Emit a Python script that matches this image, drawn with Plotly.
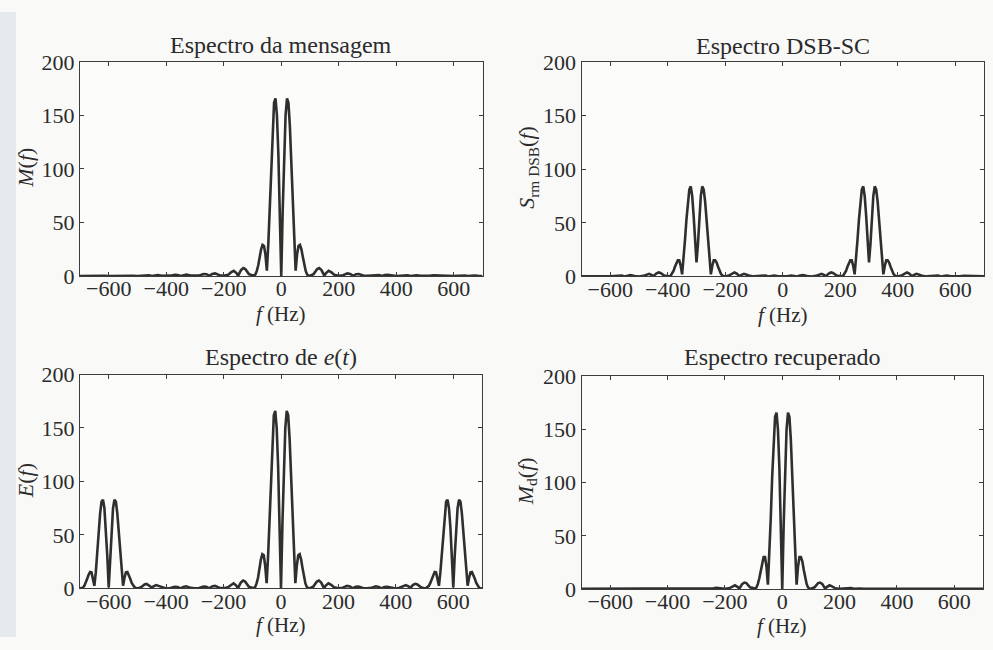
import plotly.graph_objects as go

# ---------------- data ----------------
x_tick_vals = [-600, -400, -200, 0, 200, 400, 600]
y_tick_vals = [0, 50, 100, 150, 200]

# Espectro da mensagem  M(f)
freq_msg = [-700, -685, -670, -660, -650, -640, -630, -615, -600, -585, -570, -560, -550, -540, -530, -515,
            -500, -485, -470, -460, -450, -440, -430, -415, -400, -385, -370, -360, -350, -340, -330, -315,
            -300, -285, -270, -260, -250, -240, -230, -215, -200, -185, -175, -165, -155, -150, -145, -140,
            -132, -125, -112.5, -100, -95, -90, -85, -80, -75, -70, -65, -60, -55, -50, -45, -40, -35, -30,
            -25, -20, -15, -10, -5, 0,
            5, 10, 15, 20, 25, 30, 35, 40, 45, 50, 55, 60, 65, 70, 75, 80, 85, 90, 95, 100, 112.5, 125,
            132, 140, 145, 150, 155, 165, 175, 185, 200, 215, 230, 240, 250, 260, 270, 285, 300, 315, 330,
            340, 350, 360, 370, 385, 400, 415, 430, 440, 450, 460, 470, 485, 500, 515, 530, 540, 550, 560,
            570, 585, 600, 615, 630, 640, 650, 660, 670, 685, 700]
mag_msg = [0, 0.1, 0.35, 0.35, 0, 0.3, 0.4, 0.1, 0, 0.1, 0.5, 0.45, 0, 0.4, 0.5, 0.15,
           0, 0.15, 0.65, 0.6, 0, 0.6, 0.75, 0.2, 0, 0.25, 1.0, 0.9, 0, 0.9, 1.2, 0.3,
           0.1, 0.4, 1.8, 1.6, 0.1, 1.9, 2.4, 0.7, 0.1, 1.0, 3.3, 4.8, 2.5, 0.1, 2.9, 5.5,
           7.3, 6.5, 1.7, 0.2, 0.2, 1.4, 4.7, 10, 18, 25, 29, 28, 20, 5, 30, 67, 106, 140,
           162, 166, 150, 114, 61, 0,
           61, 114, 150, 166, 162, 140, 106, 67, 30, 5, 20, 28, 29, 25, 18, 10, 4.7, 1.4, 0.2, 0.2, 1.7, 6.5,
           7.3, 5.5, 2.9, 0.1, 2.5, 4.8, 3.3, 1.0, 0.1, 0.7, 2.4, 1.9, 0.1, 1.6, 1.8, 0.4, 0.1, 0.3, 1.2,
           0.9, 0, 0.9, 1.0, 0.25, 0, 0.2, 0.75, 0.6, 0, 0.6, 0.65, 0.15, 0, 0.15, 0.5, 0.4, 0, 0.45,
           0.5, 0.1, 0, 0.1, 0.4, 0.3, 0, 0.35, 0.35, 0.1, 0]

# Espectro DSB-SC  S_DSB(f)
freq_dsb = [-700, -685, -670, -660, -650, -640, -630, -615, -600, -585, -570, -560, -550, -540, -530, -515,
            -500, -485, -475, -465, -455, -450, -445, -440, -432, -425, -412.5, -400, -395, -390, -385, -380,
            -375, -370, -365, -360, -355, -350, -345, -340, -335, -330, -325, -320, -315, -310, -305, -300,
            -295, -290, -285, -280, -275, -270, -265, -260, -255, -250, -245, -240, -235, -230, -225, -220,
            -215, -210, -205, -200, -187.5, -175, -168, -160, -155, -150, -145, -135, -125, -115, -100, -85,
            -70, -60, -50, -40, -30, -15, 0,
            15, 30, 40, 50, 60, 70, 85, 100, 115, 125, 135, 145, 150, 155, 160, 168, 175, 187.5, 200,
            205, 210, 215, 220, 225, 230, 235, 240, 245, 250, 255, 260, 265, 270, 275, 280, 285, 290,
            295, 300, 305, 310, 315, 320, 325, 330, 335, 340, 345, 350, 355, 360, 365, 370, 375, 380,
            385, 390, 395, 400, 412.5, 425, 432, 440, 445, 450, 455, 465, 475, 485, 500, 515, 530, 540,
            550, 560, 570, 585, 600, 615, 630, 640, 650, 660, 670, 685, 700]
mag_dsb = [0, 0.1, 0.5, 0.45, 0, 0.5, 0.6, 0.2, 0, 0.2, 0.9, 0.8, 0, 0.9, 1.2, 0.4,
           0, 0.5, 1.6, 2.4, 1.2, 0, 1.4, 2.7, 3.7, 3.2, 0.8, 0, 0.1, 0.7, 2.4, 5,
           9, 13, 15, 15, 10, 2, 15, 34, 53, 70, 81, 84, 75, 57, 30, 13,
           30, 57, 75, 84, 81, 70, 53, 34, 15, 2, 10, 15, 15, 13, 9, 5,
           2.4, 0.7, 0.1, 0, 0.8, 3.2, 3.7, 2.7, 1.4, 0, 1.2, 2.4, 1.6, 0.5, 0, 0.4,
           1.2, 0.9, 0, 0.8, 0.9, 0.2, 0,
           0.2, 0.9, 0.8, 0, 0.9, 1.2, 0.4, 0, 0.5, 1.6, 2.4, 1.2, 0, 1.4, 2.7, 3.7, 3.2, 0.8, 0,
           0.1, 0.7, 2.4, 5, 9, 13, 15, 15, 10, 2, 15, 34, 53, 70, 81, 84, 75, 57,
           30, 13, 30, 57, 75, 84, 81, 70, 53, 34, 15, 2, 10, 15, 15, 13, 9, 5,
           2.4, 0.7, 0.1, 0, 0.8, 3.2, 3.7, 2.7, 1.4, 0, 1.2, 2.4, 1.6, 0.5, 0, 0.4, 1.2, 0.9,
           0, 0.8, 0.9, 0.2, 0, 0.2, 0.6, 0.5, 0, 0.45, 0.5, 0.1, 0]

# Espectro de e(t)  E(f)
freq_e = [-700, -695, -690, -685, -680, -675, -670, -665, -660, -655, -650, -645, -640, -635, -630, -625,
          -620, -615, -610, -605, -600, -595, -590, -585, -580, -575, -570, -565, -560, -555, -550, -545,
          -540, -535, -530, -525, -520, -515, -510, -505, -500, -487.5, -475, -468, -460, -455, -450, -445,
          -435, -425, -412.5, -400, -385, -370, -360, -350, -340, -330, -315, -300, -285, -270, -260, -250,
          -240, -230, -215, -200, -185, -175, -165, -155, -150, -145, -140, -132, -125, -112.5, -100, -95,
          -90, -85, -80, -75, -70, -65, -60, -55, -50, -45, -40, -35, -30, -25, -20, -15, -10, -5, 0,
          5, 10, 15, 20, 25, 30, 35, 40, 45, 50, 55, 60, 65, 70, 75, 80, 85, 90, 95, 100, 112.5, 125,
          132, 140, 145, 150, 155, 165, 175, 185, 200, 215, 230, 240, 250, 260, 270, 285, 300, 315, 330,
          340, 350, 360, 370, 385, 400, 412.5, 425, 435, 445, 450, 455, 460, 468, 475, 487.5, 500, 505,
          510, 515, 520, 525, 530, 535, 540, 545, 550, 555, 560, 565, 570, 575, 580, 585, 590, 595, 600,
          605, 610, 615, 620, 625, 630, 635, 640, 645, 650, 655, 660, 665, 670, 675, 680, 685, 690, 695, 700]
mag_e = [0, 0.1, 0.7, 2.4, 5.2, 9, 12.8, 15.4, 15, 10, 2.5, 15, 34, 53, 70, 81,
         83, 75, 57, 30.6, 1, 30.6, 57, 75, 83, 81, 70, 53, 34, 15, 2.5, 10,
         15, 15.4, 12.8, 9, 5.2, 2.4, 1.1, 0.4, 0, 1.0, 3.7, 4.3, 3.3, 1.9, 0, 1.8,
         3.1, 2.3, 0.6, 0, 0.4, 1.5, 1.4, 0, 1.4, 2.0, 0.5, 0.1, 0.4, 1.8, 1.6, 0.1,
         1.9, 2.4, 0.7, 0.1, 1.0, 3.3, 4.8, 2.5, 0.1, 2.9, 5.5, 7.4, 6.5, 1.7, 0.2, 0.2,
         1.4, 4.7, 10, 19, 27, 32, 31, 21, 5, 30, 67, 106, 140, 162, 166, 150, 114, 61, 0,
         61, 114, 150, 166, 162, 140, 106, 67, 30, 5, 21, 31, 32, 27, 19, 10, 4.7, 1.4, 0.2, 0.2, 1.7, 6.5,
         7.4, 5.5, 2.9, 0.1, 2.5, 4.8, 3.3, 1.0, 0.1, 0.7, 2.4, 1.9, 0.1, 1.6, 1.8, 0.4, 0.1, 0.5, 2.0,
         1.4, 0, 1.4, 1.5, 0.4, 0, 0.6, 2.3, 3.1, 1.8, 0, 1.9, 3.3, 4.3, 3.7, 1.0, 0, 0.4,
         1.1, 2.4, 5.2, 9, 12.8, 15.4, 15, 10, 2.5, 15, 34, 53, 70, 81, 83, 75, 57, 30.6, 1,
         30.6, 57, 75, 83, 81, 70, 53, 34, 15, 2.5, 10, 15, 15.4, 12.8, 9, 5.2, 2.4, 0.7, 0.1, 0]

# Espectro recuperado  M_d(f)  (same frequency points as the message)
freq_rec = freq_msg
mag_rec = [0, 0, 0, 0, 0, 0, 0, 0, 0, 0, 0, 0, 0, 0, 0, 0,
           0, 0, 0, 0, 0, 0, 0, 0, 0, 0, 0.05, 0.05, 0, 0.25, 0.3, 0.1,
           0, 0.1, 0.4, 0.4, 0.05, 0.7, 1.0, 0.3, 0.1, 0.6, 2.2, 3.4, 1.8, 0.1, 2.3, 4.5,
           6.0, 5.5, 1.5, 0.2, 0.3, 1.4, 4.7, 10, 18, 26, 30, 30, 21, 4, 30, 67, 106, 140,
           162, 166, 150, 114, 61, 0,
           61, 114, 150, 166, 162, 140, 106, 67, 30, 4, 21, 30, 30, 26, 18, 10, 4.7, 1.4, 0.3, 0.2, 1.5, 5.5,
           6.0, 4.5, 2.3, 0.1, 1.8, 3.4, 2.2, 0.6, 0.1, 0.3, 1.0, 0.7, 0.05, 0.4, 0.4, 0.1, 0, 0.1, 0.3,
           0.25, 0, 0.05, 0.05, 0, 0, 0, 0, 0, 0, 0, 0, 0, 0, 0, 0, 0, 0, 0,
           0, 0, 0, 0, 0, 0, 0, 0, 0, 0, 0]

for fx, my in [(freq_msg, mag_msg), (freq_dsb, mag_dsb), (freq_e, mag_e), (freq_rec, mag_rec)]:
    if len(fx) != len(my):
        raise ValueError(f"length mismatch {len(fx)} vs {len(my)}")

titles = ["Espectro da mensagem", "Espectro DSB-SC",
          "Espectro de <i>e</i>(<i>t</i>)", "Espectro recuperado"]
ylabels = ["<i>M</i>(<i>f</i>)", "<i>S</i><sub>rm DSB</sub>(<i>f</i>)",
           "<i>E</i>(<i>f</i>)", "<i>M</i><sub>d</sub>(<i>f</i>)"]
xlabel = "<i>f</i> (Hz)"

# ---------------- layout ----------------
W, H = 993, 650
FONT = "Liberation Serif"
TXT = "#2b2b2b"
LINE = "#2f2f2f"


def px(x, y):
    return x / W, 1 - y / H


# plot-area boxes in pixels: (left, top, right, bottom)
boxes = [(80, 52, 482.5, 274.5), (581.5, 52, 984, 275),
         (80, 377, 482, 599.5), (581.5, 379, 983, 600)]
title_y = [34, 35, 359, 359]
xlabel_y = [314, 315, 638, 639]
ylabel_x = [26, 528, 25, 527]
ylabel_y = [162, 162, 488, 488]

series = [(freq_msg, mag_msg), (freq_dsb, mag_dsb), (freq_e, mag_e), (freq_rec, mag_rec)]

fig = go.Figure()
annotations = []
layout_axes = {}
for i, ((fx, my), box) in enumerate(zip(series, boxes)):
    n = "" if i == 0 else str(i + 1)
    fig.add_trace(go.Scatter(x=fx, y=my, mode="lines", xaxis="x" + n, yaxis="y" + n,
                             line=dict(color=LINE, width=2.6), showlegend=False,
                             hoverinfo="x+y"))
    l, t, r, b = box
    x0, y1 = px(l, t)
    x1, y0 = px(r, b)
    common = dict(showline=True, linecolor="#3c3c3c", linewidth=1, mirror="ticks",
                  ticks="inside", ticklen=4, tickwidth=1, tickcolor="#3c3c3c",
                  showgrid=False, zeroline=False,
                  tickfont=dict(family=FONT, size=22, color=TXT))
    layout_axes["xaxis" + n] = dict(domain=[x0, x1], anchor="y" + n, range=[-700, 700],
                                    tickvals=x_tick_vals, ticklabelstandoff=-7, **common)
    layout_axes["yaxis" + n] = dict(domain=[y0, y1], anchor="x" + n, range=[0, 200],
                                    tickvals=y_tick_vals, **common)
    cx = (l + r) / 2
    ax_, ay_ = px(cx, title_y[i])
    annotations.append(dict(text=titles[i], x=ax_, y=ay_, xref="paper", yref="paper",
                            showarrow=False, xanchor="center", yanchor="middle",
                            font=dict(family=FONT, size=24, color=TXT)))
    ax_, ay_ = px(cx, xlabel_y[i])
    annotations.append(dict(text=xlabel, x=ax_, y=ay_, xref="paper", yref="paper",
                            showarrow=False, xanchor="center", yanchor="middle",
                            font=dict(family=FONT, size=21, color=TXT)))
    ax_, ay_ = px(ylabel_x[i], ylabel_y[i])
    annotations.append(dict(text=ylabels[i], x=ax_, y=ay_, xref="paper", yref="paper",
                            showarrow=False, xanchor="center", yanchor="middle", textangle=-90,
                            font=dict(family=FONT, size=22, color=TXT)))

fig.update_layout(
    width=W, height=H,
    margin=dict(l=0, r=0, t=0, b=0),
    paper_bgcolor="#f9f9f8",
    plot_bgcolor="#fcfcfb",
    annotations=annotations,
    shapes=[dict(type="rect", xref="paper", yref="paper", x0=0, x1=16 / W, y0=0, y1=1,
                 fillcolor="#e6e9ee", line=dict(width=0), layer="below")],
    **layout_axes,
)

fig.write_html("out.html")
